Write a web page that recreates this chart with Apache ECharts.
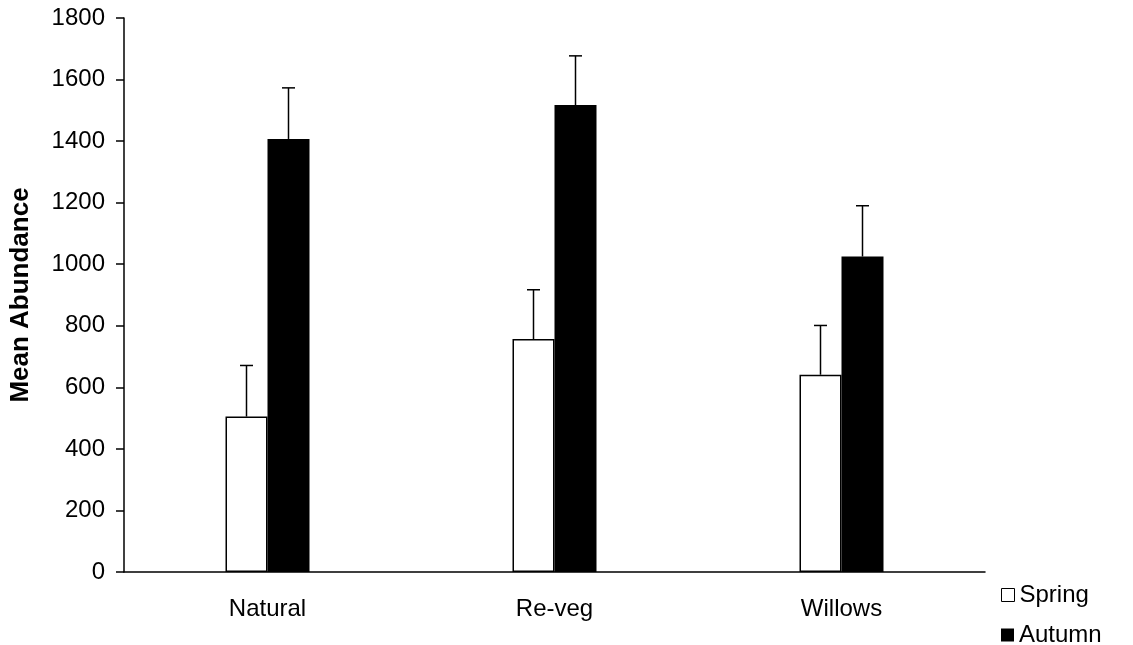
<!DOCTYPE html>
<html>
<head>
<meta charset="utf-8">
<title>Mean Abundance</title>
<script src="https://cdn.jsdelivr.net/npm/echarts@6/dist/echarts.min.js"></script>
</head>
<body style="margin:0;background:#fff;">
<div id="main" style="width:1133px;height:645px;"></div>
<script>
    var sites = ['Natural', 'Re-veg', 'Willows'];
    var spring = [505, 757, 641];
    var springErr = [166, 160, 160];
    var autumn = [1407, 1517, 1025];
    var autumnErr = [166, 160, 165];
    var yTicks = [0, 1800, 200];

    var font = 'Liberation Sans, Arial, sans-serif';
    var barW = 42;
    var fs = 24;

    // upper error bar only, drawn over the bar centre
    function errorBar(vals, errs, shift) {
        return {
            type: 'custom',
            silent: true,
            z: 5,
            data: vals.map(function (v, i) { return [i, v, v + errs[i]]; }),
            renderItem: function (params, api) {
                var lo = api.coord([api.value(0), api.value(1)]);
                var hi = api.coord([api.value(0), api.value(2)]);
                var x = lo[0] + shift;
                var st = { stroke: '#000', lineWidth: 1.5 };
                return {
                    type: 'group',
                    children: [
                        { type: 'line', shape: { x1: x, y1: lo[1], x2: x, y2: hi[1] }, style: st },
                        { type: 'line', shape: { x1: x - 6.5, y1: hi[1], x2: x + 6.5, y2: hi[1] }, style: st }
                    ]
                };
            }
        };
    }

    function legendBox(name, top, style) {
        return {
            left: 996,
            top: top,
            itemWidth: 13,
            itemHeight: 13,
            icon: 'rect',
            textStyle: { fontSize: fs, fontFamily: font, color: '#000' },
            data: [{ name: name, itemStyle: style }]
        };
    }

    var myChart = echarts.init(document.getElementById('main'));
    myChart.setOption({
        animation: false,
        textStyle: { fontFamily: font, color: '#000' },
        grid: { left: 121, top: 18, width: 864, height: 554 },
        legend: [
            legendBox('Spring', 578, { color: '#fff', borderColor: '#000', borderWidth: 1 }),
            legendBox('Autumn', 618, { color: '#000', borderWidth: 0 })
        ],
        xAxis: {
            type: 'category',
            data: sites,
            axisLine: { lineStyle: { color: '#000', width: 1.5 } },
            axisTick: { length: 8, interval: 0, lineStyle: { color: '#000', width: 1.5 } },
            axisLabel: { fontSize: fs, color: '#000', margin: 25, fontFamily: font }
        },
        yAxis: {
            type: 'value',
            min: yTicks[0],
            max: yTicks[1],
            interval: yTicks[2],
            name: 'Mean Abundance',
            nameLocation: 'middle',
            nameGap: 90,
            nameTextStyle: { fontSize: 26, fontWeight: 'bold', color: '#000', fontFamily: font },
            splitLine: { show: false },
            axisLine: { show: true, lineStyle: { color: '#000', width: 1.5 } },
            axisTick: { show: true, length: 8, lineStyle: { color: '#000', width: 1.5 } },
            axisLabel: {
                fontSize: fs, color: '#000', margin: 19, fontFamily: font,
                formatter: function (v) { return String(v); }
            }
        },
        series: [
            {
                name: 'Spring',
                type: 'bar',
                data: spring,
                barWidth: barW,
                barGap: '0%',
                itemStyle: { color: '#fff', borderColor: '#000', borderWidth: 1.5 }
            },
            {
                name: 'Autumn',
                type: 'bar',
                data: autumn,
                barWidth: barW,
                barGap: '0%',
                itemStyle: { color: '#000' }
            },
            errorBar(spring, springErr, -barW / 2),
            errorBar(autumn, autumnErr, barW / 2)
        ]
    });
</script>
</body>
</html>
